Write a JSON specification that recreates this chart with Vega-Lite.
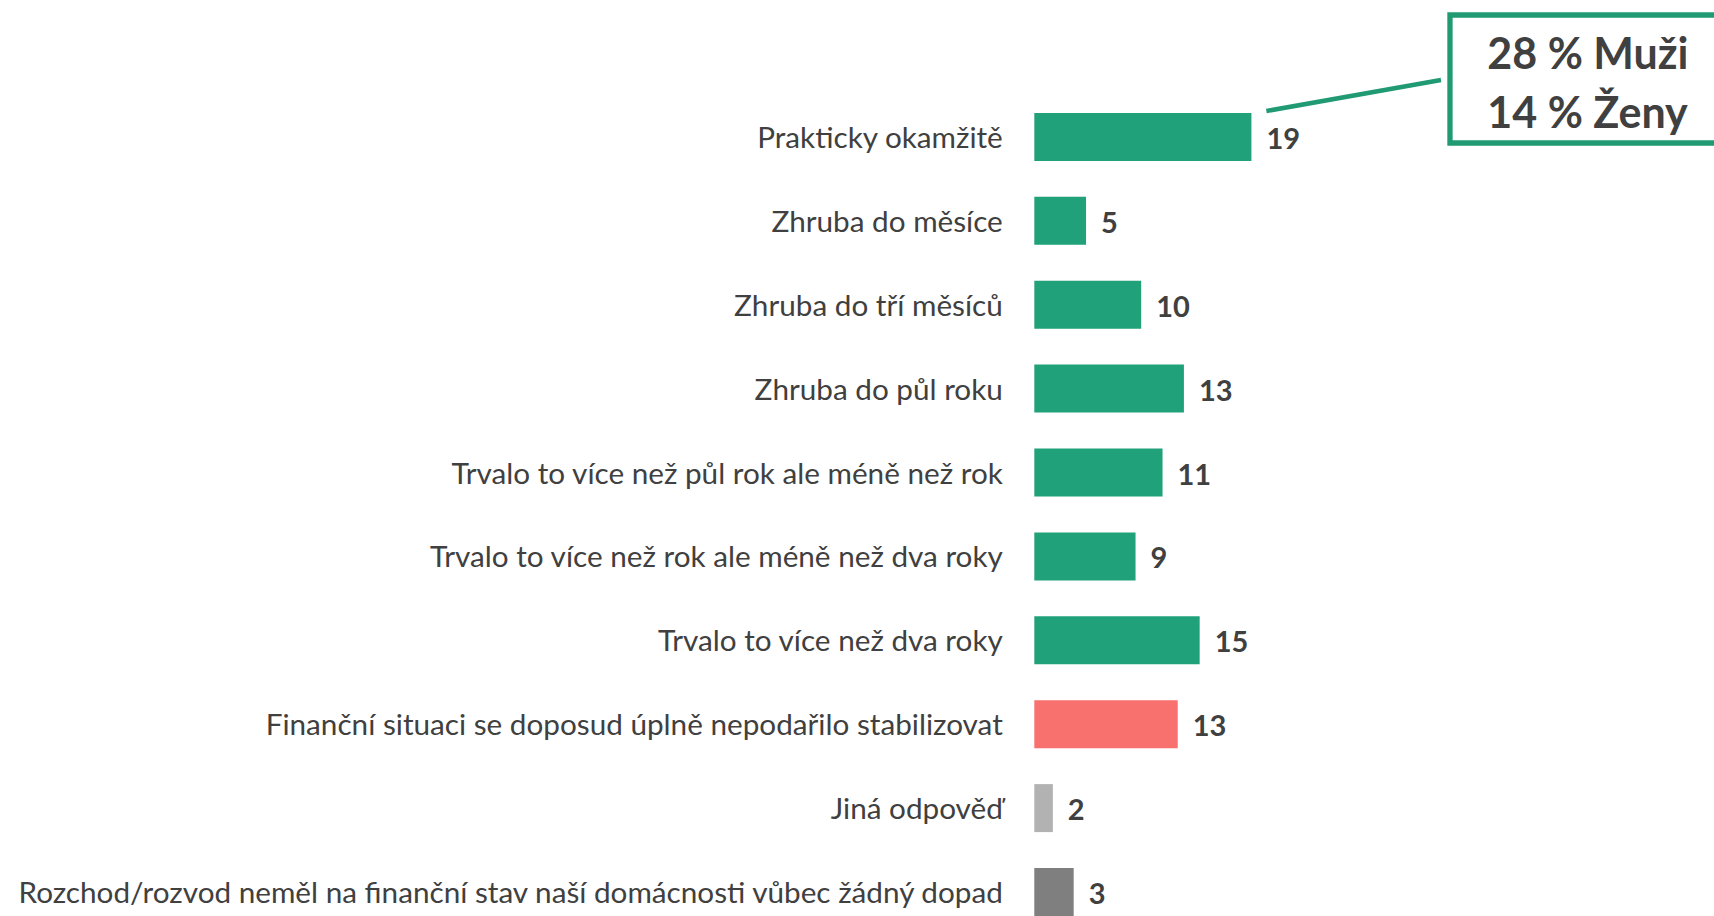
{
  "$schema": "https://vega.github.io/schema/vega-lite/v6.json",
  "width": 679.7,
  "height": 916,
  "autosize": "none",
  "padding": {"left": 1034.3, "top": 0, "right": 0, "bottom": 0},
  "background": "white",
  "config": {"view": {"stroke": null}, "font": "Lato"},
  "datasets": {
    "bars": [
      {"cat": "Prakticky okamžitě", "value": 19.3, "label": "19", "group": "green"},
      {"cat": "Zhruba do měsíce", "value": 4.6, "label": "5", "group": "green"},
      {"cat": "Zhruba do tří měsíců", "value": 9.5, "label": "10", "group": "green"},
      {"cat": "Zhruba do půl roku", "value": 13.3, "label": "13", "group": "green"},
      {"cat": "Trvalo to více než půl rok ale méně než rok", "value": 11.4, "label": "11", "group": "green"},
      {"cat": "Trvalo to více než rok ale méně než dva roky", "value": 9.0, "label": "9", "group": "green"},
      {"cat": "Trvalo to více než dva roky", "value": 14.7, "label": "15", "group": "green"},
      {"cat": "Finanční situaci se doposud úplně nepodařilo stabilizovat", "value": 12.75, "label": "13", "group": "red"},
      {"cat": "Jiná odpověď", "value": 1.65, "label": "2", "group": "lightgray"},
      {"cat": "Rozchod/rozvod neměl na finanční stav naší domácnosti vůbec žádný dopad", "value": 3.5, "label": "3", "group": "darkgray"}
    ],
    "box": [{"x1": 36.95, "x2": 75, "y1": 15, "y2": 143}],
    "connector": [{"x1": 20.63, "x2": 36.15, "y1": 111, "y2": 80}],
    "note": [
      {"text": "28 % Muži", "x": 40.27, "y": 69},
      {"text": "14 % Ženy", "x": 40.27, "y": 127.7}
    ]
  },
  "layer": [
    {
      "data": {"name": "bars"},
      "encoding": {
        "y": {
          "field": "cat",
          "type": "nominal",
          "sort": null,
          "scale": {"paddingInner": 0.428, "paddingOuter": 0.673, "align": 1},
          "axis": {
            "title": null,
            "domain": false,
            "ticks": false,
            "labelFont": "Lato",
            "labelFontSize": 29.7,
            "labelColor": "#404040",
            "labelPadding": 32,
            "labelOffset": 2,
            "labelLimit": 1100
          }
        },
        "x": {
          "field": "value",
          "type": "quantitative",
          "scale": {"domain": [0, 60.42], "nice": false, "zero": true},
          "axis": null
        }
      },
      "layer": [
        {
          "mark": {"type": "bar"},
          "encoding": {
            "color": {
              "field": "group",
              "type": "nominal",
              "scale": {
                "domain": ["green", "red", "lightgray", "darkgray"],
                "range": ["#21A179", "#F8716F", "#B2B2B2", "#7F7F7F"]
              },
              "legend": null
            }
          }
        },
        {
          "mark": {"type": "text", "align": "left", "baseline": "middle", "dx": 15, "dy": 3, "fontWeight": "bold", "fontSize": 29, "color": "#404040", "font": "Lato"},
          "encoding": {"text": {"field": "label", "type": "nominal"}}
        }
      ]
    },
    {
      "data": {"name": "box"},
      "mark": {"type": "rect", "fill": "white", "fillOpacity": 0, "stroke": "#1F9A72", "strokeWidth": 5.3},
      "encoding": {
        "x": {"field": "x1", "type": "quantitative", "scale": {"domain": [0, 60.42], "nice": false, "zero": true}, "axis": null},
        "x2": {"field": "x2"},
        "y": {"field": "y1", "type": "quantitative", "scale": {"domain": [0, 916], "reverse": true, "nice": false, "zero": false}, "axis": null},
        "y2": {"field": "y2"}
      }
    },
    {
      "data": {"name": "connector"},
      "mark": {"type": "rule", "stroke": "#1F9A72", "strokeWidth": 4.5},
      "encoding": {
        "x": {"field": "x1", "type": "quantitative", "scale": {"domain": [0, 60.42], "nice": false, "zero": true}, "axis": null},
        "x2": {"field": "x2"},
        "y": {"field": "y1", "type": "quantitative", "scale": {"domain": [0, 916], "reverse": true, "nice": false, "zero": false}, "axis": null},
        "y2": {"field": "y2"}
      }
    },
    {
      "data": {"name": "note"},
      "mark": {"type": "text", "align": "left", "baseline": "alphabetic", "fontWeight": "bold", "fontSize": 43, "color": "#404040", "font": "Lato"},
      "encoding": {
        "x": {"field": "x", "type": "quantitative", "scale": {"domain": [0, 60.42], "nice": false, "zero": true}, "axis": null},
        "y": {"field": "y", "type": "quantitative", "scale": {"domain": [0, 916], "reverse": true, "nice": false, "zero": false}, "axis": null},
        "text": {"field": "text", "type": "nominal"}
      }
    }
  ],
  "resolve": {"scale": {"y": "independent"}}
}
